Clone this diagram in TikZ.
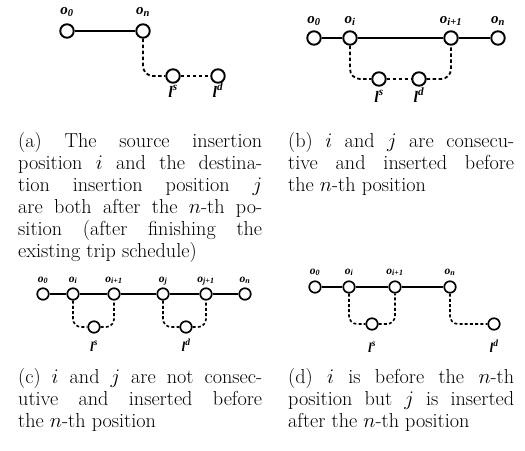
\documentclass[tikz,border=0pt]{standalone}
\usepackage{fontspec}
\newfontfamily\lblfont{Liberation Serif}
\tolerance=10000
\tikzset{
  pt/.style={circle,draw,line width=1.9pt,minimum size=13.5pt,inner sep=0pt,fill=white},
  ptsmall/.style={pt,line width=1.7pt,minimum size=11.5pt},
  seg/.style={line width=1.9pt},
  segsmall/.style={line width=1.6pt},
  dsh/.style={line width=1.8pt,dash pattern=on 3.5pt off 2.5pt,rounded corners=10pt},
  dshsmall/.style={line width=1.6pt,dash pattern=on 3pt off 2.2pt,rounded corners=8pt},
  olbl/.style={font=\lblfont\bfseries\itshape\fontsize{15}{15}\selectfont,anchor=base,inner sep=0pt},
  olblsmall/.style={olbl,font=\lblfont\bfseries\itshape\fontsize{11.5}{12}\selectfont},
  llbl/.style={olbl,font=\lblfont\bfseries\itshape\fontsize{16}{16}\selectfont},
  llblsmall/.style={olbl,font=\lblfont\bfseries\itshape\fontsize{13.5}{14}\selectfont},
  captext/.style={anchor=base west,inner sep=0pt,align=justify,font=\fontsize{20.2}{22}\selectfont}
}
\begin{document}
\begin{tikzpicture}[x=1pt,y=-1pt]
\useasboundingbox (0,0) rectangle (525,450);
% ---------- (a)
\node[pt] (a0) at (67,31) {};
\node[pt] (an) at (143,31) {};
\node[pt] (as) at (173,76) {};
\node[pt] (ad) at (218,76) {};
\draw[seg] (a0) -- (an);
\draw[dsh] (an) |- (as);
\draw[dsh] (as) -- (ad);
\node[olbl] (la0) at (67,14) {o\textsubscript{0}};
\node[olbl] (lan) at (143,14) {o\textsubscript{n}};
\node[llbl] (las) at (173,97) {l\textsuperscript{s}};
\node[llbl] (lad) at (218,97) {l\textsuperscript{d}};
\node[captext,text width=244pt] (capa) at (18,147) {(a) The source insertion\linebreak position $i$ and the destina-\linebreak tion insertion position $j$\linebreak are both after the $n$-th po-\linebreak sition (after finishing the\linebreak existing trip schedule)};
% ---------- (b)
\node[pt] (b0) at (314,38) {};
\node[pt] (bi) at (350,38) {};
\node[pt] (bi1) at (451,38) {};
\node[pt] (bn) at (498,38) {};
\node[pt] (bs) at (379,79) {};
\node[pt] (bd) at (419,79) {};
\draw[seg] (b0) -- (bi) -- (bi1) -- (bn);
\draw[dsh] (bi) |- (bs);
\draw[dsh] (bs) -- (bd);
\draw[dsh] (bd) -| (bi1);
\node[olbl] (lb0) at (314,23) {o\textsubscript{0}};
\node[olbl] (lbi) at (350,23) {o\textsubscript{i}};
\node[olbl] (lbi1) at (451,23) {o\textsubscript{i+1}};
\node[olbl] (lbn) at (498,23) {o\textsubscript{n}};
\node[llbl] (lbs) at (379,102) {l\textsuperscript{s}};
\node[llbl] (lbd) at (419,102) {l\textsuperscript{d}};
\node[captext,text width=226pt] (capb) at (288,147) {(b) $i$ and $j$ are consecu-\linebreak tive and inserted before\linebreak the $n$-th position};
% ---------- (c)
\node[ptsmall] (c0) at (43,294) {};
\node[ptsmall] (ci) at (73,294) {};
\node[ptsmall] (ci1) at (114,294) {};
\node[ptsmall] (cj) at (163,294) {};
\node[ptsmall] (cj1) at (206,294) {};
\node[ptsmall] (cn) at (245,294) {};
\node[ptsmall] (cs) at (94,327) {};
\node[ptsmall] (cd) at (186,327) {};
\draw[segsmall] (c0) -- (ci) -- (ci1) -- (cj) -- (cj1) -- (cn);
\draw[dshsmall] (ci) |- (cs);
\draw[dshsmall] (cs) -| (ci1);
\draw[dshsmall] (cj) |- (cd);
\draw[dshsmall] (cd) -| (cj1);
\node[olblsmall] (lc0) at (43,282) {o\textsubscript{0}};
\node[olblsmall] (lci) at (73,282) {o\textsubscript{i}};
\node[olblsmall] (lci1) at (114,282) {o\textsubscript{i+1}};
\node[olblsmall] (lcj) at (163,282) {o\textsubscript{j}};
\node[olblsmall] (lcj1) at (206,282) {o\textsubscript{j+1}};
\node[olblsmall] (lcn) at (245,282) {o\textsubscript{n}};
\node[llblsmall] (lcs) at (94,351) {l\textsuperscript{s}};
\node[llblsmall] (lcd) at (186,351) {l\textsuperscript{d}};
\node[captext,text width=244pt] (capc) at (18,383) {(c) $i$ and $j$ are not consec-\linebreak utive and inserted before\linebreak the $n$-th position};
% ---------- (d)
\node[ptsmall] (d0) at (315,287) {};
\node[ptsmall] (di) at (349,287) {};
\node[ptsmall] (di1) at (395,287) {};
\node[ptsmall] (dn) at (450,287) {};
\node[ptsmall] (ds) at (372,324) {};
\node[ptsmall] (dd) at (494,324) {};
\draw[segsmall] (d0) -- (di) -- (di1) -- (dn);
\draw[dshsmall] (di) |- (ds);
\draw[dshsmall] (ds) -| (di1);
\draw[dshsmall] (dn) |- (dd);
\node[olblsmall] (ld0) at (315,274) {o\textsubscript{0}};
\node[olblsmall] (ldi) at (349,274) {o\textsubscript{i}};
\node[olblsmall] (ldi1) at (395,274) {o\textsubscript{i+1}};
\node[olblsmall] (ldn) at (450,274) {o\textsubscript{n}};
\node[llblsmall] (lds) at (372,352) {l\textsuperscript{s}};
\node[llblsmall] (ldd) at (494,352) {l\textsuperscript{d}};
\node[captext,text width=226pt] (capd) at (288,383) {(d) $i$ is before the $n$-th\linebreak position but $j$ is inserted\linebreak after the $n$-th position};
\end{tikzpicture}
\end{document}
